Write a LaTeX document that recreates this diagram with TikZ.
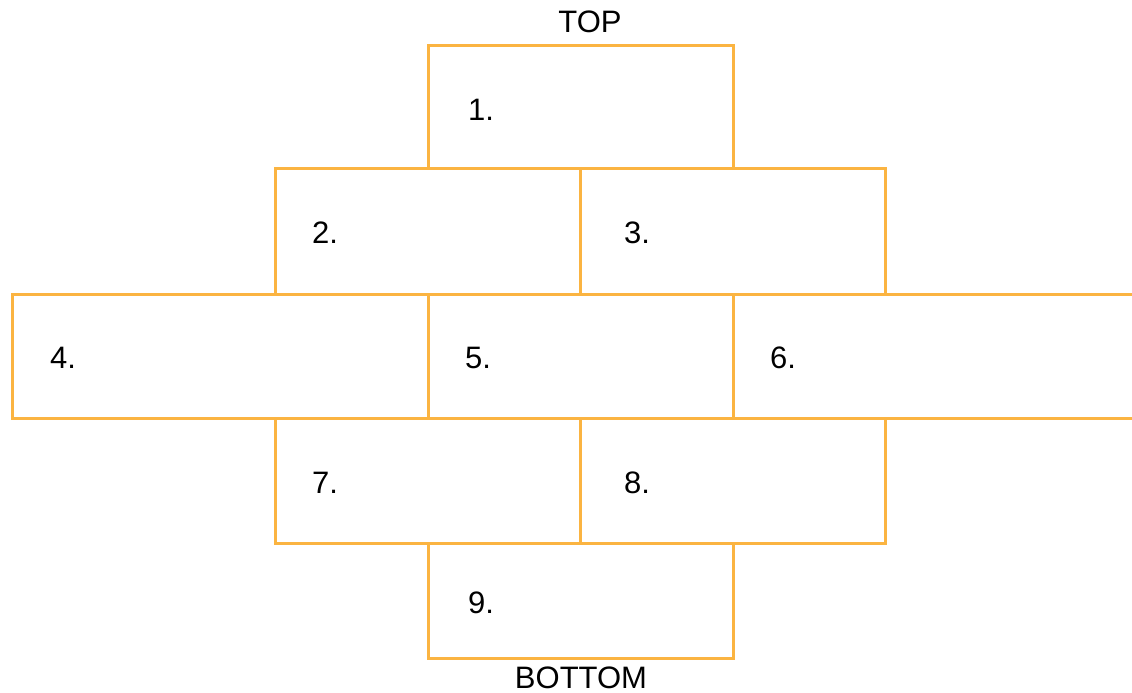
\documentclass[tikz,border=0pt]{standalone}
\usepackage{fontspec}
\setmainfont{Liberation Sans}
\definecolor{boxorange}{RGB}{251,180,65}
\begin{document}
\begin{tikzpicture}[x=1pt,y=-1pt,
  cell/.style={draw=boxorange,line width=3pt,minimum height=#1,inner sep=0pt},
  lbl/.style={anchor=west,font=\fontsize{31}{36}\selectfont,inner sep=0pt},
  ttl/.style={font=\fontsize{31}{36}\selectfont,inner sep=0pt}]
\useasboundingbox (0,0) rectangle (1132,693);
\node[cell=122pt,minimum width=305pt] (b1) at (580.5,107) {};
\node[cell=126pt,minimum width=305pt] (b2) at (427.5,231) {};
\node[cell=126pt,minimum width=305pt] (b3) at (732.5,231) {};
\node[cell=124pt,minimum width=416pt] (b4) at (220,356) {};
\node[cell=124pt,minimum width=305pt] (b5) at (580.5,356) {};
\node[cell=124pt,minimum width=414pt] (b6) at (940,356) {};
\node[cell=125pt,minimum width=305pt] (b7) at (427.5,480.5) {};
\node[cell=125pt,minimum width=305pt] (b8) at (732.5,480.5) {};
\node[cell=115pt,minimum width=305pt] (b9) at (580.5,600.5) {};
\node[lbl] (l1) at (468,110) {1.};
\node[lbl] (l2) at (312,233) {2.};
\node[lbl] (l3) at (624,233) {3.};
\node[lbl] (l4) at (50,358) {4.};
\node[lbl] (l5) at (465,358) {5.};
\node[lbl] (l6) at (770,358) {6.};
\node[lbl] (l7) at (312,483) {7.};
\node[lbl] (l8) at (624,483) {8.};
\node[lbl] (l9) at (468,603) {9.};
\node[ttl] (top) at (590,22) {TOP};
\node[ttl] (bottom) at (581,678) {BOTTOM};
\end{tikzpicture}
\end{document}
